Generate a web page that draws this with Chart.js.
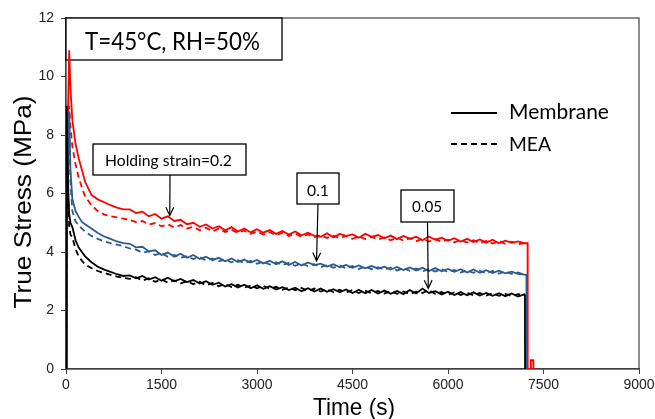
<!DOCTYPE html>
<html><head><meta charset="utf-8">
<script src="https://cdn.jsdelivr.net/npm/chart.js@4.4.1/dist/chart.umd.min.js"></script>
<style>html,body{margin:0;padding:0;background:#fff;overflow:hidden}</style>
</head><body><canvas id="c" width="655" height="419"></canvas>
<script>
// ---- data ----
const timeS = [0,10,30,50,70,100,150,200,250,300,400,500,600,700,800,900,
1000,1100,1200,1300,1400,1500,1600,1700,1800,1900,
2000,2100,2200,2300,2400,2500,2600,2700,2800,2900,
3000,3100,3200,3300,3400,3500,3600,3700,3800,3900,
4000,4100,4200,4300,4400,4500,4600,4700,4800,4900,
5000,5100,5200,5300,5400,5500,5600,5700,5800,5900,
6000,6100,6200,6300,6400,6500,6600,6700,6800,6900,
7000,7100,7200];

const redMembrane = [0,3.5,8.6,10.9,9.6,8.5,7.7,7.2,6.8,6.4,5.95,5.8,5.7,5.6,5.52,5.46,
5.46,5.33,5.38,5.22,5.3,5.14,5.22,5.06,5.1,4.95,
5.0,4.86,4.94,4.8,4.88,4.74,4.85,4.7,4.8,4.67,
4.78,4.66,4.75,4.62,4.72,4.6,4.7,4.57,4.66,4.55,
4.52,4.64,4.5,4.62,4.55,4.6,4.49,4.62,4.52,4.58,
4.47,4.56,4.44,4.55,4.45,4.52,4.4,4.53,4.42,4.49,
4.38,4.47,4.36,4.45,4.34,4.43,4.32,4.42,4.3,4.39,
4.31,4.36,4.3];
const redMEA = [0,3.0,7.6,9.0,8.3,7.6,7.0,6.55,6.2,5.9,5.6,5.4,5.28,5.22,5.18,5.14,
5.1,5.02,5.06,4.94,4.99,4.88,4.95,4.84,4.92,4.8,
4.86,4.74,4.83,4.7,4.8,4.68,4.76,4.66,4.73,4.62,
4.7,4.6,4.68,4.57,4.66,4.55,4.63,4.52,4.6,4.5,
4.58,4.48,4.56,4.47,4.55,4.45,4.53,4.44,4.52,4.43,
4.5,4.4,4.49,4.39,4.47,4.37,4.45,4.36,4.44,4.35,
4.42,4.33,4.41,4.32,4.4,4.3,4.38,4.29,4.37,4.28,
4.35,4.27,4.3];
const blueMembrane = [0,3.0,7.5,8.8,6.8,5.8,5.4,5.2,5.03,4.95,4.8,4.65,4.53,4.45,4.36,4.3,
4.28,4.16,4.18,4.02,4.06,3.9,3.98,3.84,3.94,3.8,
3.9,3.76,3.84,3.72,3.8,3.68,3.78,3.66,3.74,3.64,
3.73,3.61,3.7,3.58,3.68,3.56,3.66,3.54,3.64,3.55,
3.6,3.5,3.58,3.48,3.56,3.46,3.54,3.44,3.52,3.43,
3.5,3.4,3.49,3.38,3.47,3.37,3.46,3.35,3.45,3.34,
3.42,3.32,3.41,3.3,3.4,3.29,3.38,3.28,3.36,3.27,
3.33,3.25,3.23];
const blueMEA = [0,2.8,7.0,8.2,6.4,5.4,5.05,4.9,4.8,4.7,4.55,4.45,4.36,4.3,4.25,4.2,
4.12,4.08,3.98,4.02,3.9,3.96,3.84,3.9,3.8,3.86,
3.76,3.82,3.71,3.78,3.68,3.74,3.65,3.72,3.62,3.69,
3.6,3.67,3.57,3.65,3.55,3.63,3.53,3.6,3.52,3.58,
3.48,3.56,3.46,3.54,3.44,3.52,3.42,3.5,3.41,3.48,
3.39,3.47,3.37,3.45,3.36,3.44,3.34,3.42,3.33,3.41,
3.31,3.39,3.3,3.37,3.29,3.36,3.27,3.35,3.26,3.33,
3.25,3.3,3.22];
const blackMembrane = [0,9.0,6.5,5.3,5.0,4.85,4.4,4.15,4.0,3.85,3.65,3.5,3.4,3.32,3.24,3.18,
3.2,3.1,3.18,3.06,3.14,3.02,3.12,3.0,3.08,2.97,
3.04,2.92,3.0,2.88,2.95,2.82,2.9,2.79,2.88,2.76,
2.86,2.74,2.83,2.72,2.8,2.7,2.78,2.66,2.76,2.65,
2.75,2.64,2.73,2.62,2.72,2.6,2.71,2.59,2.7,2.58,
2.68,2.57,2.67,2.56,2.7,2.58,2.75,2.6,2.66,2.55,
2.64,2.53,2.63,2.52,2.62,2.51,2.6,2.5,2.59,2.49,
2.58,2.48,2.55];
const blackMEA = [0,8.0,6.0,4.9,4.6,4.5,4.1,3.85,3.7,3.58,3.45,3.35,3.28,3.22,3.16,3.12,
3.08,3.14,3.02,3.1,2.98,3.06,2.95,3.03,2.93,3.0,
2.9,2.98,2.86,2.94,2.83,2.9,2.8,2.88,2.78,2.85,
2.76,2.84,2.74,2.81,2.71,2.79,2.69,2.77,2.67,2.75,
2.65,2.73,2.63,2.71,2.61,2.7,2.6,2.68,2.59,2.67,
2.58,2.66,2.57,2.65,2.56,2.64,2.6,2.7,2.57,2.63,
2.54,2.62,2.53,2.61,2.52,2.6,2.51,2.59,2.5,2.57,
2.49,2.56,2.52];

// unloading tails of the solid curves
const redTailT = [7250,7252,7300,7302,7340,7342];
const redTailV = [4.3,0,0,0.3,0.3,0];
const blueTailT = [7232,7234];
const blueTailV = [3.22,0];
const blackTailT = [7208,7210];
const blackTailV = [2.52,0];

const xTicks = [0,1500,3000,4500,6000,7500,9000];
const yTicks = [0,2,4,6,8,10,12];

// annotation arrow tips (data coords)
const arrowTips = [{t:1630,v:5.25},{t:3935,v:3.7},{t:5690,v:2.76}];

// ---- build ----
function pts(ts, vs, tailT, tailV){
  const a = ts.map((t,i)=>({x:t,y:vs[i]}));
  if (tailT) tailT.forEach((t,i)=>a.push({x:t,y:tailV[i]}));
  return a;
}
const RED='#ff0000', BLUE='#2d5b8e', BLACK='#000000';
function ds(data,color,dashed){
  return {data, borderColor:color, backgroundColor:color, borderWidth:1.8,
    borderDash: dashed?[6,4]:[], showLine:true, pointRadius:0, tension:0, fill:false};
}
const datasets = [
  ds(pts(timeS,blackMEA),BLACK,true),
  ds(pts(timeS,blackMembrane,blackTailT,blackTailV),BLACK,false),
  ds(pts(timeS,blueMEA),BLUE,true),
  ds(pts(timeS,blueMembrane,blueTailT,blueTailV),BLUE,false),
  ds(pts(timeS,redMEA),RED,true),
  ds(pts(timeS,redMembrane,redTailT,redTailV),RED,false),
];

function fitText(ctx, text, family, targetW, targetCap, x, y, align, rot){
  ctx.save();
  ctx.font = '100px "'+family+'"';
  const m = ctx.measureText(text);
  const cap = ctx.measureText('H').actualBoundingBoxAscent;
  const size = 100*targetW/m.width;
  const sy = targetCap/(cap*size/100);
  ctx.translate(x,y);
  if (rot) ctx.rotate(rot);
  ctx.scale(1, sy);
  ctx.font = size+'px "'+family+'"';
  ctx.textAlign = align||'left';
  ctx.textBaseline = 'alphabetic';
  ctx.fillStyle = '#000';
  ctx.fillText(text,0,0);
  ctx.restore();
}
function box(ctx,x0,y0,x1,y1){
  ctx.save();
  ctx.fillStyle='#fff'; ctx.fillRect(x0,y0,x1-x0,y1-y0);
  ctx.strokeStyle='#000'; ctx.lineWidth=1.3; ctx.strokeRect(x0,y0,x1-x0,y1-y0);
  ctx.restore();
}
function arrow(ctx,x0,y0,x1,y1){
  ctx.save();
  ctx.strokeStyle='#000'; ctx.lineWidth=1.2;
  ctx.beginPath(); ctx.moveTo(x0,y0); ctx.lineTo(x1,y1); ctx.stroke();
  const ang = Math.atan2(y1-y0,x1-x0), L=9, w=0.45;
  ctx.beginPath();
  ctx.moveTo(x1-L*Math.cos(ang-w), y1-L*Math.sin(ang-w));
  ctx.lineTo(x1,y1);
  ctx.lineTo(x1-L*Math.cos(ang+w), y1-L*Math.sin(ang+w));
  ctx.stroke();
  ctx.restore();
}

const annot = {
  id:'annot',
  beforeDatasetsDraw(chart){
    const ctx=chart.ctx, a=chart.chartArea;
    ctx.save(); ctx.strokeStyle='#404040'; ctx.lineWidth=1.2;
    ctx.strokeRect(a.left,a.top,a.right-a.left,a.bottom-a.top); ctx.restore();
    box(ctx,a.left,a.top,282,60);
    fitText(ctx,'T=45°C, RH=50%','Lato',175,18,172.5,50,'center');
    box(ctx,93,144,246,175);
    fitText(ctx,'Holding strain=0.2','Lato',127,11.5,168.5,165.5,'center');
    box(ctx,297,173,339,204);
    fitText(ctx,'0.1','Lato',22,11,318,196,'center');
    box(ctx,401,190,454,222);
    fitText(ctx,'0.05','Lato',30,11.5,427,212,'center');
    ctx.save(); ctx.strokeStyle='#000'; ctx.lineWidth=2;
    ctx.beginPath(); ctx.moveTo(451,113); ctx.lineTo(497,113); ctx.stroke();
    ctx.setLineDash([6,4]);
    ctx.beginPath(); ctx.moveTo(451,144); ctx.lineTo(499,144); ctx.stroke();
    ctx.restore();
    fitText(ctx,'Membrane','Lato',100,15,509,119,'left');
    fitText(ctx,'MEA','Lato',42,14,509,151,'left');
    fitText(ctx,'Time (s)','Liberation Sans',82,17,354,415,'center');
    fitText(ctx,'True Stress (MPa)','Liberation Sans',213,16,31,202,'center',-Math.PI/2);
  },
  afterDatasetsDraw(chart){
    const ctx=chart.ctx, xs=chart.scales.x, ys=chart.scales.y;
    const starts=[[170,175],[318,204],[427.5,222]];
    arrowTips.forEach((p,i)=>{
      arrow(ctx,starts[i][0],starts[i][1],xs.getPixelForValue(p.t),ys.getPixelForValue(p.v));
    });
  }
};

new Chart(document.getElementById('c'),{
  type:'scatter',
  data:{datasets},
  options:{
    responsive:false, animation:false, devicePixelRatio:1,
    layout:{padding:{top:18,right:16,left:0,bottom:0}},
    plugins:{legend:{display:false},tooltip:{enabled:false}},
    scales:{
      x:{type:'linear',min:0,max:9000,
        afterBuildTicks:s=>{s.ticks=xTicks.map(v=>({value:v}));},
        ticks:{font:{family:'Liberation Sans',size:14},color:'#222',padding:3,maxRotation:0,autoSkip:false,callback:v=>String(v)},
        grid:{drawOnChartArea:false,drawTicks:true,tickLength:5,color:'#404040'},
        border:{color:'#404040',width:1.2},
        afterFit:s=>{s.height=50;s.paddingLeft=0;s.paddingRight=0;}},
      y:{type:'linear',min:0,max:12,
        afterBuildTicks:s=>{s.ticks=yTicks.map(v=>({value:v}));},
        ticks:{font:{family:'Liberation Sans',size:14},color:'#222',padding:7,autoSkip:false,callback:v=>String(v)},
        grid:{drawOnChartArea:false,drawTicks:true,tickLength:5,color:'#404040'},
        border:{color:'#404040',width:1.2},
        afterFit:s=>{s.width=66;s.paddingTop=0;s.paddingBottom=0;}}
    }
  },
  plugins:[annot]
});
</script></body></html>
